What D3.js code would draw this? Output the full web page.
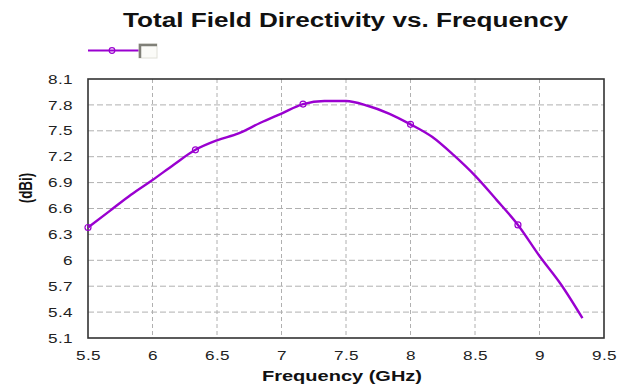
<!DOCTYPE html>
<html><head><meta charset="utf-8">
<script src="https://cdn.jsdelivr.net/npm/d3@7"></script>
<style>
body{margin:0;background:#fff;}
svg{display:block;font-family:"Liberation Sans",Arial,sans-serif;}
</style></head><body>
<svg id="c" width="628" height="385"></svg>
<script>
const freqs = [5.5,5.667,5.833,6.0,6.167,6.333,6.5,6.667,6.833,7.0,7.167,7.333,7.5,7.667,7.833,8.0,8.167,8.333,8.5,8.667,8.833,9.0,9.167,9.333];
const directivity = [6.38,6.57,6.76,6.93,7.11,7.28,7.39,7.47,7.59,7.70,7.81,7.845,7.845,7.79,7.70,7.575,7.43,7.22,6.98,6.70,6.41,6.05,5.72,5.33];
const markerFreqs = [5.5,6.333,7.167,8.0,8.833];
const xTicks = [5.5,6,6.5,7,7.5,8,8.5,9,9.5];
const yTicks = [5.1,5.4,5.7,6,6.3,6.6,6.9,7.2,7.5,7.8,8.1];
const title = "Total Field Directivity vs. Frequency";
const xLabel = "Frequency (GHz)";
const yLabel = "(dBi)";
const color = "#9a00d0";

const svg = d3.select("#c");
const L=88,R=604,T=79,B=338;
const SX = 1.32;
const x = d3.scaleLinear().domain([5.5,9.5]).range([L,R]);
const y = d3.scaleLinear().domain([5.1,8.1]).range([B,T]);

// grid
svg.append("g").selectAll("line").data(xTicks.slice(1,-1)).join("line")
  .attr("x1",d=>x(d)).attr("x2",d=>x(d)).attr("y1",T).attr("y2",B)
  .attr("stroke","#b0b0b0").attr("stroke-dasharray","4,3");
svg.append("g").selectAll("line").data(yTicks.slice(1,-1)).join("line")
  .attr("y1",d=>y(d)).attr("y2",d=>y(d)).attr("x1",L).attr("x2",R)
  .attr("stroke","#b0b0b0").attr("stroke-dasharray","6,3");

// frame
svg.append("rect").attr("x",L).attr("y",T).attr("width",R-L).attr("height",B-T)
  .attr("fill","none").attr("stroke","#333").attr("stroke-width",1.6);

// axes labels
const xa = d3.axisBottom(x).tickValues(xTicks).tickSize(0).tickPadding(0).tickFormat(d=>String(d));
const gx = svg.append("g").attr("transform",`translate(0,${B})`).call(xa);
gx.select(".domain").remove();
gx.selectAll("text").attr("dy",null).attr("y",22).attr("font-size",13).attr("fill","#222")
  .attr("font-family","Liberation Sans, Arial, sans-serif").attr("letter-spacing","0.3px")
  .attr("transform",`scale(${SX},1)`);
const ya = d3.axisLeft(y).tickValues(yTicks).tickSize(0).tickPadding(0).tickFormat(d=>String(d));
const gy = svg.append("g").attr("transform",`translate(${L},0)`).call(ya);
gy.select(".domain").remove();
gy.selectAll("text").attr("x",-15/SX).attr("font-size",13).attr("fill","#222")
  .attr("font-family","Liberation Sans, Arial, sans-serif").attr("letter-spacing","0.3px")
  .attr("transform",`scale(${SX},1)`);

// line
const pts = freqs.map((f,i)=>({f,v:directivity[i]}));
svg.append("path").datum(pts)
  .attr("d",d3.line().x(d=>x(d.f)).y(d=>y(d.v)).curve(d3.curveMonotoneX))
  .attr("fill","none").attr("stroke",color).attr("stroke-width",2.4);
svg.append("g").selectAll("circle").data(pts.filter(p=>markerFreqs.includes(p.f))).join("circle")
  .attr("cx",d=>x(d.f)).attr("cy",d=>y(d.v)).attr("r",3)
  .attr("fill","none").attr("stroke",color).attr("stroke-width",1.2);

// title
svg.append("text").attr("x",123).attr("y",26.5)
  .attr("font-weight","bold").attr("font-size",20).attr("fill","#111")
  .attr("textLength",445).attr("lengthAdjust","spacingAndGlyphs").text(title);
svg.append("text").attr("x",262).attr("y",381)
  .attr("font-weight","bold").attr("font-size",14).attr("fill","#111")
  .attr("textLength",160).attr("lengthAdjust","spacingAndGlyphs").text(xLabel);
svg.append("text").attr("transform",`translate(32,188) rotate(-90) scale(1,${SX})`).attr("text-anchor","middle")
  .attr("font-weight","bold").attr("font-size",13.5).attr("fill","#111").text(yLabel);

// legend
svg.append("line").attr("x1",88).attr("x2",139).attr("y1",50.5).attr("y2",50.5)
  .attr("stroke",color).attr("stroke-width",2);
svg.append("circle").attr("cx",112).attr("cy",50.5).attr("r",2.8).attr("fill","none")
  .attr("stroke",color).attr("stroke-width",1.2);
svg.append("rect").attr("x",139).attr("y",44).attr("width",18).attr("height",14)
  .attr("fill","#fbfbf8").attr("stroke","#e0e0d8").attr("stroke-width",1);
svg.append("path").attr("d","M140,58 V45 H157").attr("fill","none").attr("stroke","#808078").attr("stroke-width",2.5);
</script></body></html>
